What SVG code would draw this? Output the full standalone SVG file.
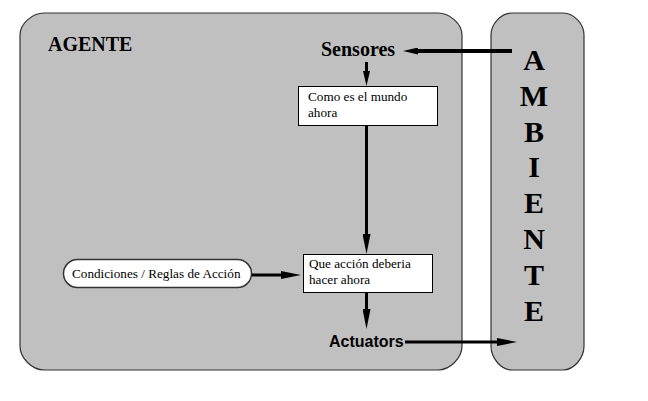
<svg xmlns="http://www.w3.org/2000/svg" width="648" height="401" viewBox="0 0 648 401">
<style>
.panel{fill:#c0c0c0;stroke:#333;stroke-width:1.2}
.box{fill:#fff;stroke:#000;stroke-width:1}
.pill{fill:#fff;stroke:#333;stroke-width:1.5}
.ts{font-family:"Liberation Serif",serif;font-size:13.2px;fill:#000}
.tb{font-family:"Liberation Serif",serif;font-weight:bold;fill:#000}
.ta{font-family:"Liberation Sans",sans-serif;font-weight:bold;font-size:16px;fill:#000}
.c{stroke:#000;fill:none}
</style>
<defs>
<marker id="ah" markerUnits="userSpaceOnUse" viewBox="0 0 20 8" markerWidth="20" markerHeight="8" refX="0" refY="4" orient="auto"><path d="M0,0 L20,4 L0,8 z" fill="#000"/></marker>
<marker id="ahs" markerUnits="userSpaceOnUse" viewBox="0 0 15 7" markerWidth="15" markerHeight="7" refX="0" refY="3.5" orient="auto"><path d="M0,0 L15,3.5 L0,7 z" fill="#000"/></marker>
</defs>
<g id="agente">
<path class="panel" d="M44,13 L438,13 C450,13 462,24 462,35 L462,346 C462,358 450,370 438,370 L44,370 C32,370 20,358 20,346 L20,35 C20,24 32,13 44,13 Z"/>
<text class="tb" x="48" y="51" font-size="20">AGENTE</text>
</g>
<g id="ambiente">
<path class="panel" d="M512,13 L563,13 C574,13 584,24 584,35 L584,346 C584,358 574,370 563,370 L512,370 C501,370 491,358 491,346 L491,35 C491,24 501,13 512,13 Z"/>
<g class="tb" font-size="30" text-anchor="middle">
<text x="534" y="70">A</text>
<text x="534" y="106">M</text>
<text x="534" y="142">B</text>
<text x="534" y="177">I</text>
<text x="534" y="213">E</text>
<text x="534" y="249">N</text>
<text x="534" y="285">T</text>
<text x="534" y="321">E</text>
</g>
</g>
<g id="sensores">
<text class="tb" x="321" y="56" font-size="20">Sensores</text>
</g>
<g id="como">
<rect class="box" x="298.5" y="86.5" width="139" height="39"/>
<text class="ts" x="308" y="101">Como es el mundo</text>
<text class="ts" x="308" y="117">ahora</text>
</g>
<g id="que">
<rect class="box" x="303.5" y="254.5" width="129" height="38"/>
<text class="ts" x="309" y="268">Que acción deberia</text>
<text class="ts" x="309" y="284">hacer ahora</text>
</g>
<g id="condiciones">
<rect class="pill" x="63.5" y="259.5" width="188" height="28" rx="14" ry="14"/>
<text class="ts" x="72" y="278">Condiciones / Reglas de Acción</text>
</g>
<g id="actuators">
<text class="ta" x="329" y="347">Actuators</text>
</g>
<g id="connectors">
<line class="c" x1="512" y1="51" x2="418" y2="51" stroke-width="4" marker-end="url(#ahs)"/>
<line class="c" x1="366.5" y1="62" x2="366.5" y2="71" stroke-width="3" marker-end="url(#ahs)"/>
<line class="c" x1="366.5" y1="126" x2="366.5" y2="234" stroke-width="3" marker-end="url(#ah)"/>
<line class="c" x1="252" y1="275" x2="281" y2="275" stroke-width="3" marker-end="url(#ah)"/>
<line class="c" x1="366.5" y1="293" x2="366.5" y2="309" stroke-width="3" marker-end="url(#ah)"/>
<line class="c" x1="405" y1="342" x2="497" y2="342" stroke-width="3" marker-end="url(#ah)"/>
</g>
</svg>
